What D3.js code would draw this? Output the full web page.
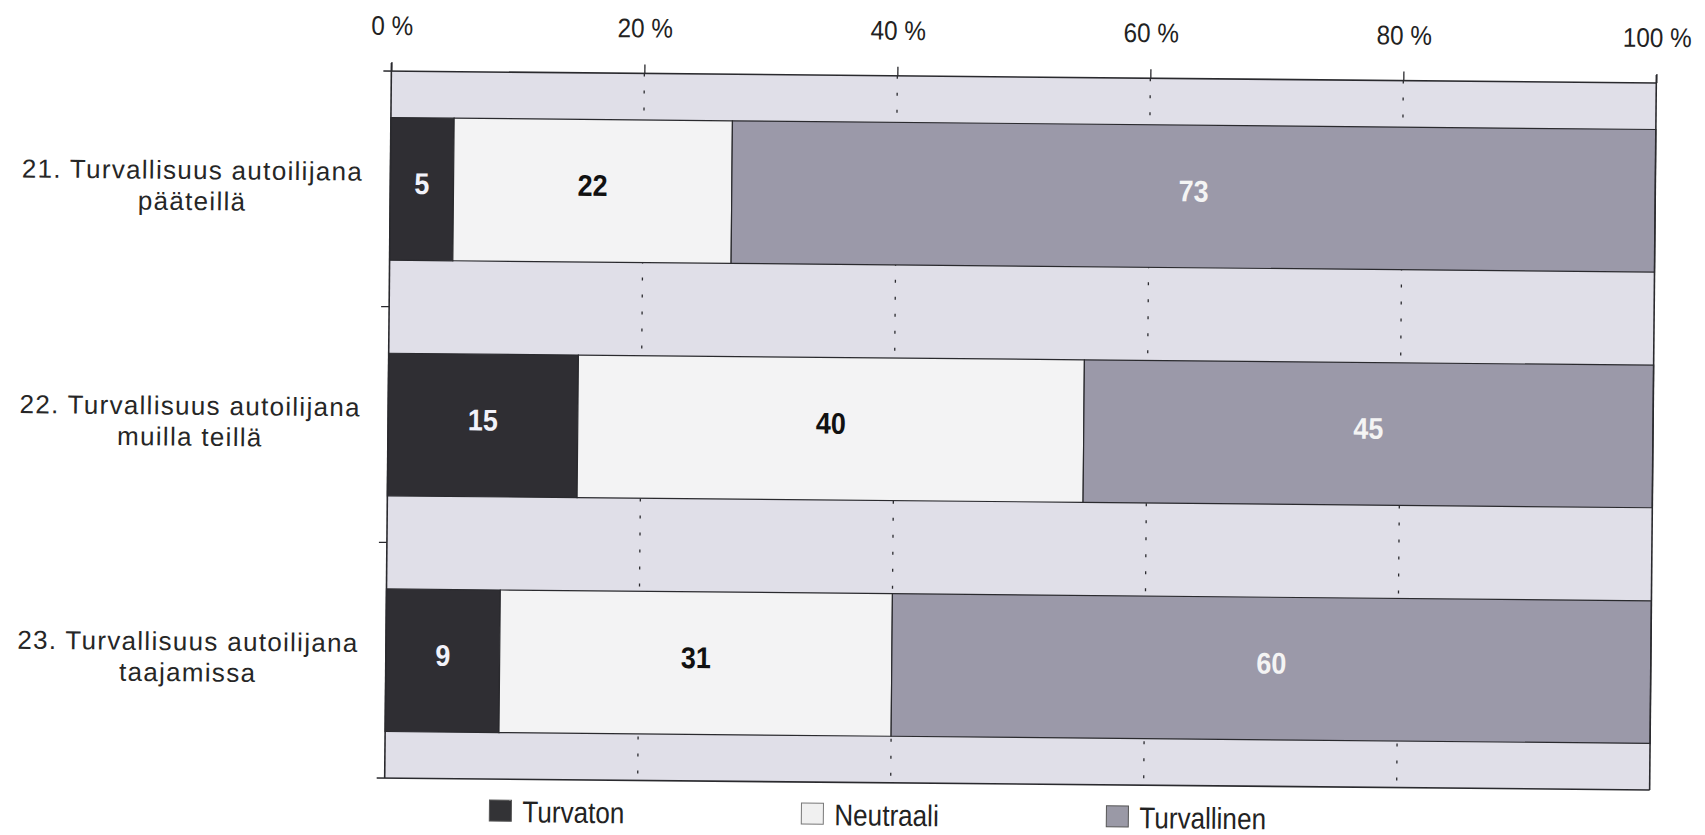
<!DOCTYPE html>
<html>
<head>
<meta charset="utf-8">
<script src="https://cdn.jsdelivr.net/npm/d3@7"></script>
<style>
  html, body { margin: 0; padding: 0; background: #ffffff; }
  svg { display: block; }
</style>
</head>
<body>
<svg id="chart" width="1705" height="835"></svg>
<script>
// ---- data ----
const categories = [
  ["21. Turvallisuus autoilijana", "pääteillä"],
  ["22. Turvallisuus autoilijana", "muilla teillä"],
  ["23. Turvallisuus autoilijana", "taajamissa"]
];
const seriesNames = ["Turvaton", "Neutraali", "Turvallinen"];
const turvaton = [5, 15, 9];
const neutraali = [22, 40, 31];
const turvallinen = [73, 45, 60];
const tickValues = [0, 20, 40, 60, 80, 100];
const tickLabels = ["0 %", "20 %", "40 %", "60 %", "80 %", "100 %"];

// ---- styling ----
const colors = ["#2f2e33", "#f3f3f4", "#9b99a9"];
const labelColors = ["#f2f2fa", "#111111", "#f4f4f4"];
const legendColors = ["#333336", "#f0f0f0", "#9a99a6"];
const bgColor = "#e0dfe8";
const ink = "#2a2a2e";
const narrow = "'Liberation Sans', Arial, sans-serif";

const pLeft = 388, pRight = 1653, pTop = 77, pBottom = 784;

const svg = d3.select("#chart");
const g = svg.append("g").attr("transform", "rotate(0.54 1020 430)");

const x = d3.scaleLinear().domain([0, 100]).range([pLeft, pRight]);
const y = d3.scaleBand().domain(d3.range(categories.length))
  .range([pTop, pBottom]).paddingInner(0.395).paddingOuter(0.1975);

// plot background
g.append("rect").attr("x", pLeft).attr("y", pTop)
  .attr("width", pRight - pLeft).attr("height", pBottom - pTop)
  .attr("fill", bgColor);

// dotted gridlines
g.append("g").selectAll("line").data(tickValues.filter(v => v > 0 && v < 100)).join("line")
  .attr("x1", d => x(d)).attr("x2", d => x(d))
  .attr("y1", pTop).attr("y2", pBottom)
  .attr("stroke", ink).attr("stroke-width", 1.3)
  .attr("stroke-dasharray", "3,14");

// stacked data
const rows = categories.map((c, i) => ({ i, vals: [turvaton[i], neutraali[i], turvallinen[i]] }));
const segs = [];
rows.forEach(r => {
  let acc = 0;
  r.vals.forEach((v, k) => {
    segs.push({ i: r.i, k, x0: acc, x1: acc + v, v });
    acc += v;
  });
});

g.append("g").selectAll("rect").data(segs).join("rect")
  .attr("x", d => x(d.x0)).attr("width", d => x(d.x1) - x(d.x0))
  .attr("y", d => y(d.i)).attr("height", y.bandwidth())
  .attr("fill", d => colors[d.k])
  .attr("stroke", ink).attr("stroke-width", 1.2);

g.append("g").selectAll("text").data(segs).join("text")
  .attr("transform", d => `translate(${(x(d.x0) + x(d.x1)) / 2},${y(d.i) + y.bandwidth() / 2 + 5}) scale(0.9,1)`)
  .attr("text-anchor", "middle")
  .attr("font-family", narrow)
  .attr("font-weight", "bold")
  .attr("font-size", 30)
  .attr("fill", d => labelColors[d.k])
  .text(d => d.v);

// axes frame
const frame = g.append("g").attr("stroke", ink).attr("fill", "none");
frame.append("line").attr("x1", pLeft - 8).attr("x2", pRight).attr("y1", pTop).attr("y2", pTop).attr("stroke-width", 1.6);
frame.append("line").attr("x1", pLeft).attr("x2", pLeft).attr("y1", pTop - 8).attr("y2", pBottom).attr("stroke-width", 1.6);
frame.append("line").attr("x1", pLeft - 8).attr("x2", pRight).attr("y1", pBottom).attr("y2", pBottom).attr("stroke-width", 1.6);
frame.append("line").attr("x1", pRight).attr("x2", pRight).attr("y1", pTop - 8).attr("y2", pBottom).attr("stroke-width", 1.6);

// top axis ticks
const xAxis = d3.axisTop(x).tickValues(tickValues).tickSize(9).tickFormat((d, i) => tickLabels[i]);
const ax = g.append("g").attr("transform", `translate(0,${pTop})`).call(xAxis);
ax.select(".domain").remove();
ax.selectAll(".tick line").attr("stroke", ink).attr("stroke-width", 1.3);
ax.selectAll(".tick text")
  .attr("y", null).attr("dy", null)
  .attr("transform", "translate(0,-36) scale(0.9,1)")
  .attr("fill", "#222")
  .attr("font-family", narrow)
  .attr("font-size", 27);

// left category boundary ticks
const boundaries = d3.range(1, categories.length).map(i => y(i) - y.step() * y.paddingInner() / 2);
g.append("g").selectAll("line").data(boundaries).join("line")
  .attr("x1", pLeft - 8).attr("x2", pLeft)
  .attr("y1", d => d).attr("y2", d => d)
  .attr("stroke", ink).attr("stroke-width", 1.3);

// category labels
const catG = g.append("g");
categories.forEach((lines, i) => {
  const cy = y(i) + y.bandwidth() / 2;
  const t = catG.append("text")
    .attr("text-anchor", "middle")
    .attr("font-family", "'Liberation Sans', Arial, sans-serif")
    .attr("font-size", 26)
    .attr("letter-spacing", 1.3)
    .attr("fill", "#262626");
  lines.forEach((ln, j) => {
    t.append("tspan").attr("x", 190).attr("y", cy - 8 + j * 31).text(ln);
  });
});

// legend
const legendX = [493, 805, 1110];
const legendY = 815;
const leg = g.append("g").selectAll("g").data(seriesNames).join("g")
  .attr("transform", (d, i) => `translate(${legendX[i]},${legendY})`);
leg.append("rect").attr("x", 0).attr("y", -10).attr("width", 22).attr("height", 21)
  .attr("fill", (d, i) => legendColors[i])
  .attr("stroke", (d, i) => i === 1 ? "#777" : "#555").attr("stroke-width", 1);
leg.append("text")
  .attr("transform", "translate(33,12) scale(0.87,1)")
  .attr("font-family", narrow)
  .attr("font-size", 30)
  .attr("fill", "#222")
  .text(d => d);
</script>
</body>
</html>
